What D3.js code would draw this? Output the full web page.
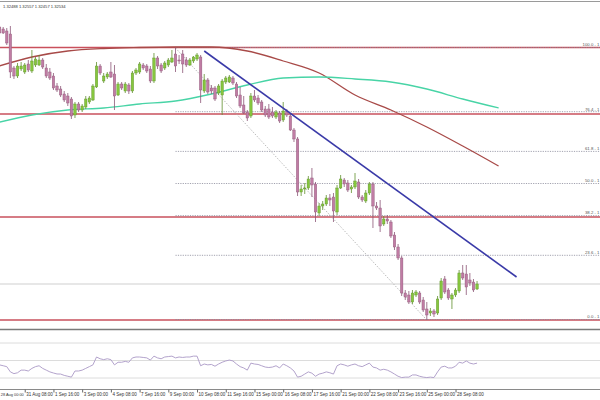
<!DOCTYPE html>
<html><head><meta charset="utf-8">
<script src="https://cdn.jsdelivr.net/npm/d3@7"></script>
<style>html,body{margin:0;padding:0;background:#fff;} svg{display:block;font-family:"Liberation Sans",Arial,sans-serif;}</style>
</head><body><svg id="chart" width="600" height="400"></svg>
<script>
// ---- data (H4 bars, bar index = array position + 1) ----
const barOpen = [1.3446,1.3442,1.3438,1.3432,1.3364,1.3348,1.3362,1.3356,1.3372,1.3358,
1.3370,1.3370,1.3380,1.3364,1.3356,1.3348,1.3328,1.3322,1.3312,1.3308,
1.3302,1.3270,1.3292,1.3280,1.3286,1.3296,1.3300,1.3326,1.3368,1.3338,
1.3346,1.3356,1.3352,1.3310,1.3332,1.3318,1.3330,1.3318,1.3354,1.3356,
1.3370,1.3368,1.3362,1.3338,1.3384,1.3370,1.3364,1.3370,1.3376,1.3392,
1.3380,1.3392,1.3380,1.3370,1.3378,1.3382,1.3386,1.3318,1.3340,1.3324,
1.3324,1.3314,1.3310,1.3336,1.3336,1.3344,1.3332,1.3310,1.3290,1.3276,
1.3268,1.3308,1.3304,1.3296,1.3282,1.3282,1.3276,1.3266,1.3274,1.3260,
1.3278,1.3268,1.3240,1.3222,1.3116,1.3122,1.3124,1.3144,1.3132,1.3074,
1.3088,1.3092,1.3104,1.3106,1.3076,1.3124,1.3140,1.3134,1.3122,1.3126,
1.3136,1.3106,1.3098,1.3114,1.3132,1.3088,1.3084,1.3052,1.3062,1.3056,
1.3030,1.3006,1.2984,1.2914,1.2910,1.2896,1.2910,1.2914,1.2900,1.2882,
1.2874,1.2878,1.2874,1.2904,1.2942,1.2920,1.2902,1.2910,1.2918,1.2954,
1.2952,1.2940,1.2936,1.2922];
const barHigh = [1.3450,1.3446,1.3444,1.3448,1.3368,1.3374,1.3376,1.3374,1.3380,1.3400,
1.3386,1.3390,1.3384,1.3372,1.3364,1.3354,1.3334,1.3328,1.3318,1.3314,
1.3306,1.3296,1.3296,1.3292,1.3308,1.3308,1.3332,1.3376,1.3372,1.3354,
1.3356,1.3376,1.3370,1.3336,1.3336,1.3336,1.3334,1.3358,1.3364,1.3376,
1.3374,1.3372,1.3368,1.3394,1.3388,1.3374,1.3378,1.3384,1.3400,1.3404,
1.3390,1.3400,1.3386,1.3384,1.3388,1.3394,1.3390,1.3352,1.3344,1.3330,
1.3328,1.3332,1.3342,1.3348,1.3350,1.3348,1.3336,1.3326,1.3308,1.3280,
1.3314,1.3320,1.3310,1.3300,1.3288,1.3292,1.3286,1.3280,1.3278,1.3296,
1.3282,1.3274,1.3244,1.3226,1.3130,1.3134,1.3148,1.3164,1.3136,1.3094,
1.3098,1.3110,1.3112,1.3114,1.3130,1.3150,1.3144,1.3140,1.3130,1.3154,
1.3142,1.3110,1.3120,1.3136,1.3136,1.3096,1.3100,1.3068,1.3070,1.3060,
1.3036,1.3012,1.2988,1.2920,1.2918,1.2920,1.2920,1.2918,1.2906,1.2896,
1.2884,1.2882,1.2908,1.2944,1.2948,1.2924,1.2914,1.2924,1.2960,1.2970,
1.2970,1.2954,1.2942,1.2938];
const barLow = [1.3430,1.3432,1.3410,1.3344,1.3342,1.3344,1.3358,1.3352,1.3356,1.3354,
1.3366,1.3368,1.3362,1.3344,1.3340,1.3320,1.3316,1.3306,1.3296,1.3288,
1.3262,1.3264,1.3276,1.3276,1.3282,1.3292,1.3298,1.3324,1.3350,1.3334,
1.3342,1.3344,1.3280,1.3308,1.3320,1.3314,1.3312,1.3314,1.3350,1.3352,
1.3360,1.3354,1.3334,1.3334,1.3362,1.3354,1.3360,1.3366,1.3374,1.3356,
1.3372,1.3354,1.3366,1.3368,1.3374,1.3378,1.3294,1.3314,1.3312,1.3312,
1.3298,1.3310,1.3270,1.3332,1.3334,1.3330,1.3304,1.3284,1.3272,1.3258,
1.3264,1.3296,1.3290,1.3276,1.3266,1.3262,1.3264,1.3262,1.3254,1.3256,
1.3266,1.3238,1.3216,1.3108,1.3108,1.3112,1.3120,1.3106,1.3056,1.3068,
1.3080,1.3088,1.3088,1.3056,1.3070,1.3122,1.3126,1.3116,1.3114,1.3122,
1.3102,1.3096,1.3094,1.3110,1.3044,1.3080,1.3036,1.3048,1.3052,1.3024,
1.3000,1.2980,1.2908,1.2900,1.2892,1.2892,1.2906,1.2892,1.2876,1.2860,
1.2868,1.2866,1.2870,1.2900,1.2912,1.2900,1.2882,1.2906,1.2914,1.2940,
1.2910,1.2928,1.2916,1.2920];
const barClose = [1.3434,1.3434,1.3414,1.3356,1.3348,1.3368,1.3368,1.3370,1.3360,1.3378,
1.3382,1.3380,1.3366,1.3348,1.3344,1.3324,1.3320,1.3310,1.3300,1.3294,
1.3268,1.3292,1.3280,1.3288,1.3302,1.3304,1.3328,1.3368,1.3354,1.3348,
1.3352,1.3346,1.3308,1.3332,1.3324,1.3332,1.3318,1.3354,1.3360,1.3372,
1.3364,1.3358,1.3338,1.3384,1.3368,1.3358,1.3374,1.3380,1.3384,1.3368,
1.3378,1.3372,1.3370,1.3380,1.3386,1.3390,1.3320,1.3340,1.3316,1.3318,
1.3302,1.3328,1.3338,1.3344,1.3346,1.3334,1.3308,1.3288,1.3274,1.3264,
1.3308,1.3300,1.3294,1.3280,1.3270,1.3266,1.3268,1.3276,1.3258,1.3278,
1.3270,1.3240,1.3222,1.3116,1.3122,1.3124,1.3142,1.3130,1.3076,1.3088,
1.3092,1.3104,1.3100,1.3078,1.3124,1.3142,1.3132,1.3120,1.3126,1.3138,
1.3106,1.3100,1.3114,1.3132,1.3088,1.3084,1.3048,1.3062,1.3058,1.3028,
1.3006,1.2984,1.2914,1.2906,1.2896,1.2914,1.2916,1.2896,1.2880,1.2870,
1.2878,1.2872,1.2902,1.2938,1.2916,1.2904,1.2910,1.2920,1.2954,1.2944,
1.2926,1.2934,1.2920,1.2932];
const rsiValues = [45,44,43,37,35,36,39,39,38,41,
43,44,41,39,37,35.7,34.6,34.5,33,32,
31,38,38,39,41,43,45,54,52,51,
52,51,45,48,48,49,48,53,54,54,
53.5,53,50.5,55,53,52,54,54.5,55,53,
54,53.5,54,54,55,55,44,46,45,45.5,
43.5,46,48,49.5,50.5,49.5,46,43,41.5,39,
47,46,45.5,44,42.5,42,42.5,44,41.5,46,
44,41.5,38,31,32,34.5,37,35.5,32,34.5,
35.5,37,36,34.5,44,46,45,43.5,45,46,
44,43,45,47,42.5,41.5,39,40,39,37,
34.5,32,30.5,31,31,33.5,33.5,32,31,30.5,
31,30.5,37,42.5,43.5,41.5,41.5,43.5,48,47,
49.5,47,46,47];
const timeLabels = ["28 Aug 00:00","31 Aug 08:00","1 Sep 16:00","3 Sep 00:00","4 Sep 08:00",
"7 Sep 16:00","9 Sep 00:00","10 Sep 08:00","11 Sep 16:00","15 Sep 00:00","16 Sep 08:00",
"17 Sep 16:00","21 Sep 00:00","22 Sep 08:00","23 Sep 16:00","25 Sep 00:00","28 Sep 08:00"];
const labelEvery = 8;
const maBars = [0,10,20,30,40,50,60,70,80,90,100,110,120,130,140];
const maSlow = [1.3366,1.3386,1.3398,1.3403,1.3405,1.3406,1.3406,1.3398,1.3378,1.3354,1.3310,1.3280,1.3246,1.3208,1.3168];
const maFast = [1.3254,1.3270,1.3280,1.3284,1.3292,1.3298,1.3312,1.3330,1.3344,1.3346,1.3342,1.3336,1.3322,1.3302,1.3284];
const fibHigh = 1.3404, fibLow = 1.2860;
const fibBars = [50,120];
const fibLevels = [100,76.4,61.8,50,38.2,23.6,0];
const fibLabelTexts = ["100.0 - 1","76.4 - 1","61.8 - 1","50.0 - 1","38.2 - 1","23.6 - 1","0.0 - 1"];
const hLines = [1.3405,1.3272,1.3066,1.2860];
const trendBars = [58,145];
const trendPrices = [1.3398,1.2946];
const bidPrice = 1.2932;
const rsiLevels = [70,50,30];
const headerText = "1.32488 1.32557 1.32457 1.32534";

// ---- drawing ----
const svg = d3.select("#chart");
const x = d3.scaleLinear().domain([0,100]).range([-4,355]);
const y = d3.scaleLinear().domain([1.2854,1.35]).range([323,0]);
const yR = d3.scaleLinear().domain([30,70]).range([378,343]);

const defs = svg.append("defs");
defs.append("clipPath").attr("id","mainClip").append("rect").attr("x",0).attr("y",3).attr("width",600).attr("height",325);
defs.append("clipPath").attr("id","rsiClip").append("rect").attr("x",0).attr("y",331).attr("width",600).attr("height",57);

svg.append("rect").attr("width",600).attr("height",400).attr("fill","#fff");
// top border
svg.append("line").attr("x1",0).attr("x2",600).attr("y1",1.5).attr("y2",1.5).attr("stroke","#9a9a9a").attr("stroke-width",1);

const main = svg.append("g").attr("clip-path","url(#mainClip)");

// bid line
main.append("line").attr("x1",0).attr("x2",600).attr("y1",y(bidPrice)).attr("y2",y(bidPrice))
  .attr("stroke","#cfcfcf").attr("stroke-width",1);

// horizontal red support/resistance lines
main.selectAll(".hl").data(hLines).enter().append("line")
  .attr("x1",0).attr("x2",600).attr("y1",d=>y(d)).attr("y2",d=>y(d))
  .attr("stroke","#c9505c").attr("stroke-width",1.7);

// fibonacci levels
const fibPrice = l => fibLow + (fibHigh-fibLow)*l/100;
main.selectAll(".fib").data(fibLevels).enter().append("line")
  .attr("x1",x(fibBars[0])).attr("x2",600)
  .attr("y1",d=>y(fibPrice(d))-0.5).attr("y2",d=>y(fibPrice(d))-0.5)
  .attr("stroke","#8a8a9a").attr("stroke-width",0.8).attr("stroke-dasharray","1.2,1.2");
main.selectAll(".fibt").data(fibLevels).enter().append("text")
  .attr("x",599.5).attr("y",d=>y(fibPrice(d))-1.6).attr("text-anchor","end")
  .attr("font-size",4.3).attr("fill","#555")
  .text((d,i)=>fibLabelTexts[i]);
// fib diagonal
main.append("line").attr("x1",x(fibBars[0])).attr("y1",y(fibHigh)).attr("x2",x(fibBars[1])).attr("y2",y(fibLow))
  .attr("stroke","#aaaaaa").attr("stroke-width",0.8).attr("stroke-dasharray","1.5,1.5");

// moving averages
const maLine = vals => d3.line().x((d,i)=>x(maBars[i])).y(d=>y(d)).curve(d3.curveMonotoneX)(vals);
main.append("path").attr("d",maLine(maSlow)).attr("fill","none").attr("stroke","#a84a48").attr("stroke-width",1.3);
main.append("path").attr("d",maLine(maFast)).attr("fill","none").attr("stroke","#48d4a6").attr("stroke-width",1.3);

// candles
const bars = barOpen.map((o,i)=>({i:i+1,o,h:barHigh[i],l:barLow[i],c:barClose[i]}));
const bullFill="#86c63e", bullStroke="#5f8f2c", bearFill="#c07ca4", bearStroke="#8c5676";
const cg = main.append("g");
cg.selectAll(".wick").data(bars).enter().append("line")
  .attr("x1",d=>x(d.i)).attr("x2",d=>x(d.i)).attr("y1",d=>y(d.h)).attr("y2",d=>y(d.l))
  .attr("stroke",d=>d.c>=d.o?bullStroke:bearStroke).attr("stroke-width",0.8);
cg.selectAll(".body").data(bars).enter().append("rect")
  .attr("x",d=>x(d.i)-1.25).attr("width",2.5)
  .attr("y",d=>y(Math.max(d.o,d.c))).attr("height",d=>Math.max(0.8,Math.abs(y(d.o)-y(d.c))))
  .attr("fill",d=>d.c>=d.o?bullFill:bearFill).attr("stroke",d=>d.c>=d.o?bullStroke:bearStroke).attr("stroke-width",0.4);

// trend line
main.append("line").attr("x1",x(trendBars[0])).attr("y1",y(trendPrices[0])).attr("x2",x(trendBars[1])).attr("y2",y(trendPrices[1]))
  .attr("stroke","#3a3aa8").attr("stroke-width",1.6);

// header text
svg.append("text").attr("x",3).attr("y",7.6).attr("font-size",4.1).attr("fill","#333").text(headerText);

// separator between panels
svg.append("line").attr("x1",0).attr("x2",600).attr("y1",329.5).attr("y2",329.5).attr("stroke","#7a7a7a").attr("stroke-width",1.6);

// RSI panel
const rsiG = svg.append("g").attr("clip-path","url(#rsiClip)");
rsiG.selectAll(".rl").data(rsiLevels).enter().append("line")
  .attr("x1",0).attr("x2",600).attr("y1",d=>yR(d)).attr("y2",d=>yR(d))
  .attr("stroke","#dcdcdc").attr("stroke-width",1);
rsiG.append("path").attr("d",d3.line().x((d,i)=>x(i+1)).y(d=>yR(d))(rsiValues))
  .attr("fill","none").attr("stroke","#b3a3cc").attr("stroke-width",1);

// time axis
const axis = d3.axisBottom(x)
  .tickValues(timeLabels.map((t,k)=>k*labelEvery))
  .tickFormat((v,k)=>timeLabels[k])
  .tickSize(3).tickSizeOuter(0);
const ax = svg.append("g").attr("transform","translate(0,389.5)").call(axis);
ax.select(".domain").attr("stroke","#8a8a8a").attr("d","M0,0H600");
ax.selectAll(".tick line").attr("stroke","#666");
ax.selectAll(".tick text").attr("text-anchor","start").attr("x",1).attr("y",3.3)
  .attr("font-size",4.5).attr("fill","#333").attr("font-family","Liberation Sans, Arial, sans-serif");
// keep the first (partly off-chart) label inside the frame, slightly smaller so it does not touch the next one
ax.selectAll(".tick text").filter(d=>x(d)+1<0).attr("x",d=>0.3-x(d)).attr("font-size",3.9);
</script></body></html>
